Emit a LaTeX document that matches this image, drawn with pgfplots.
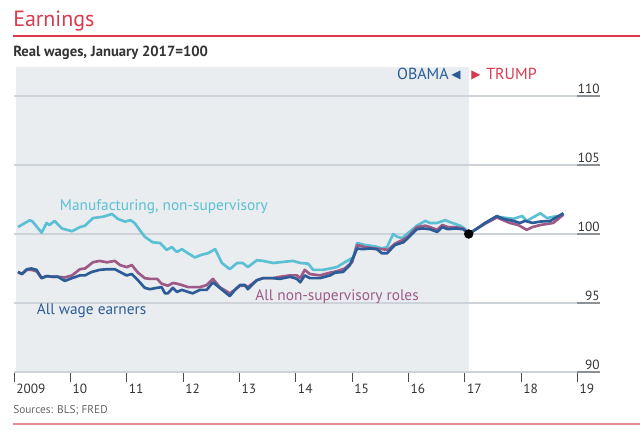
\documentclass[border=0pt]{standalone}
\usepackage{pgfplots}
\pgfplotsset{compat=1.18}
\usepackage{pgfplotstable}
\usepackage{fontspec}
\setmainfont{PT Sans}
\newfontfamily\dejavu{DejaVu Sans}
\definecolor{ecored}{HTML}{DB3A4D}
\definecolor{ecopink}{HTML}{E58A95}
\definecolor{bgshade}{HTML}{E9EDF0}
\definecolor{gridc}{HTML}{CDD3D8}
\definecolor{tickdark}{HTML}{8C9196}
\definecolor{cyanl}{HTML}{5BC0D4}
\definecolor{purp}{HTML}{9E5A86}
\definecolor{blu}{HTML}{2C5C97}
\definecolor{txt}{HTML}{333333}

\pgfplotstableread{
x y
2009.07 100.5
2009.28 101.0
2009.33 100.9
2009.49 100.1
2009.58 100.8
2009.63 100.65
2009.72 100.95
2009.85 100.4
2010.03 100.2
2010.17 100.5
2010.26 100.6
2010.40 101.15
2010.58 101.25
2010.74 101.45
2010.84 101.1
2010.97 100.9
2011.07 101.0
2011.14 100.8
2011.32 99.8
2011.46 99.4
2011.59 99.35
2011.71 98.85
2011.80 99.05
2011.89 98.7
2011.98 98.9
2012.09 98.6
2012.21 98.3
2012.33 98.5
2012.44 98.6
2012.57 98.9
2012.69 97.9
2012.83 97.45
2012.96 97.9
2013.06 97.9
2013.15 97.6
2013.31 98.1
2013.42 98.05
2013.60 97.9
2013.95 98.05
2014.08 97.9
2014.22 97.85
2014.31 97.4
2014.48 97.4
2014.61 97.5
2014.73 97.6
2014.87 97.95
2015.02 98.3
2015.09 99.35
2015.23 99.2
2015.41 99.1
2015.53 98.95
2015.62 99.05
2015.73 100.0
2015.80 99.8
2015.89 99.7
2015.99 100.05
2016.15 100.6
2016.30 100.95
2016.38 100.8
2016.51 100.8
2016.65 101.0
2016.78 100.8
2016.92 100.6
2017.01 100.35
2017.07 100.0
2017.18 100.3
2017.57 101.25
2017.86 101.1
2018.02 101.3
2018.10 100.95
2018.34 101.5
2018.46 101.15
2018.57 101.25
2018.69 101.3
2018.75 101.5
}\manuf

\pgfplotstableread{
x y
2009.07 97.25
2009.14 97.1
2009.23 97.4
2009.31 97.4
2009.40 97.3
2009.49 96.8
2009.58 96.95
2009.69 96.9
2009.78 96.9
2009.90 96.85
2010.03 97.0
2010.17 97.45
2010.26 97.5
2010.40 97.95
2010.52 98.05
2010.65 97.95
2010.79 98.05
2010.88 97.75
2011.00 97.6
2011.09 97.75
2011.20 97.2
2011.32 96.8
2011.41 96.75
2011.54 96.75
2011.62 96.4
2011.73 96.25
2011.82 96.45
2011.89 96.4
2011.98 96.3
2012.09 96.15
2012.21 96.15
2012.30 96.15
2012.42 96.3
2012.53 96.75
2012.65 96.15
2012.83 95.7
2012.92 95.95
2013.01 96.25
2013.10 96.25
2013.15 96.15
2013.31 96.65
2013.42 96.8
2013.60 96.8
2013.72 96.9
2013.90 97.0
2014.02 97.0
2014.08 96.8
2014.16 97.4
2014.25 97.1
2014.43 97.0
2014.61 97.2
2014.73 97.3
2014.87 97.5
2015.00 97.95
2015.09 99.2
2015.23 99.05
2015.41 98.95
2015.53 98.9
2015.64 98.85
2015.76 99.3
2015.89 99.55
2015.99 99.8
2016.15 100.5
2016.30 100.6
2016.38 100.5
2016.51 100.3
2016.60 100.65
2016.70 100.5
2016.83 100.5
2016.97 100.4
2017.07 100.0
2017.22 100.4
2017.36 100.75
2017.57 101.2
2017.80 100.8
2017.95 100.65
2018.10 100.3
2018.20 100.5
2018.34 100.65
2018.57 100.8
2018.75 101.4
}\nonsup

\pgfplotstableread{
x y
2009.07 97.25
2009.14 97.1
2009.23 97.45
2009.31 97.5
2009.40 97.4
2009.49 96.8
2009.58 96.95
2009.69 96.9
2009.78 96.9
2009.90 96.6
2010.03 96.8
2010.17 97.0
2010.26 97.0
2010.38 97.25
2010.52 97.4
2010.65 97.45
2010.79 97.45
2010.88 97.25
2011.00 97.0
2011.09 97.1
2011.20 96.65
2011.32 96.1
2011.41 96.0
2011.54 96.1
2011.62 96.15
2011.68 95.7
2011.73 95.7
2011.82 96.1
2011.89 95.8
2011.98 95.95
2012.09 95.8
2012.17 95.7
2012.30 95.95
2012.42 95.95
2012.53 96.5
2012.65 96.1
2012.83 95.5
2012.92 95.95
2013.01 96.3
2013.10 96.3
2013.15 96.0
2013.31 96.65
2013.42 96.8
2013.60 96.8
2013.72 96.75
2013.90 96.9
2014.02 96.75
2014.08 96.5
2014.16 97.0
2014.25 96.8
2014.43 96.8
2014.61 97.0
2014.70 97.2
2014.84 97.25
2014.96 97.75
2015.09 98.95
2015.19 98.9
2015.32 98.95
2015.44 98.9
2015.53 98.6
2015.62 98.6
2015.76 99.2
2015.91 99.4
2015.99 99.7
2016.15 100.35
2016.26 100.4
2016.38 100.35
2016.51 100.15
2016.60 100.5
2016.70 100.35
2016.83 100.4
2016.97 100.35
2017.07 100.0
2017.22 100.4
2017.36 100.8
2017.57 101.3
2017.68 101.1
2017.86 100.95
2017.98 100.8
2018.07 100.95
2018.20 100.8
2018.34 100.9
2018.52 100.95
2018.60 101.15
2018.75 101.5
}\allwage

\begin{document}
\begin{tikzpicture}[x=0.75pt,y=-0.75pt]
\path[use as bounding box] (0,0) rectangle (640,442);
% header
\node[anchor=base west,inner sep=0,text=ecored,font=\fontsize{16.5}{20}\selectfont] at (13,27) {Earnings};
\draw[ecored,line width=1.2pt] (13,36) -- (640,36);
\node[anchor=base west,inner sep=0,text=txt,font=\fontsize{11}{13}\selectfont\bfseries] at (13,57) {Real wages, January 2017=100};
\begin{axis}[
  at={(10.5pt,-279pt)}, anchor=south west,
  scale only axis, width=439.5pt, height=228.75pt,
  xmin=2009, xmax=2019.4, ymin=90, ymax=112.1,
  axis x line*=bottom, axis y line=none,
  x axis line style={draw=none},
  xtick={2009,2010,2011,2012,2013,2014,2015,2016,2017,2018,2019},
  xticklabels={2009,10,11,12,13,14,15,16,17,18,19},
  tick align=outside, major tick length=7.5pt,
  x tick style={draw=black!70,line width=0.6pt},
  x tick label style={anchor=north west,inner sep=0,xshift=1.5pt,yshift=-1.5pt,text=txt,font=\fontsize{10}{12}\selectfont},
  ytick=\empty,
  clip=false,
]
\fill[bgshade] (axis cs:2009.03,90) rectangle (axis cs:2017.07,112.1);
\pgfplotsinvokeforeach{90,95,100,105,110}{
  \draw[gridc,line width=1.2pt] (axis cs:2009,#1) -- (axis cs:2019.4,#1);
  \draw[tickdark,line width=1.2pt] (axis cs:2019.0,#1) -- (axis cs:2019.4,#1);
  \node[anchor=south east,inner sep=0,yshift=1.5pt,text=txt,font=\fontsize{10}{12}\selectfont] at (axis cs:2019.4,#1) {#1};
}
\addplot[cyanl,line width=2pt,line join=round] table[x=x,y=y] {\manuf};
\addplot[purp,line width=2pt,line join=round] table[x=x,y=y] {\nonsup};
\addplot[blu,line width=2pt,line join=round] table[x=x,y=y] {\allwage};
\addplot[only marks,mark=*,mark size=3.3pt,black] coordinates {(2017.07,100)};
\node[anchor=base west,inner sep=0,text=cyanl,font=\fontsize{11.5}{13}\selectfont] at (axis cs:2009.81,101.7) {Manufacturing, non-supervisory};
\node[anchor=base west,inner sep=0,text=blu,font=\fontsize{11.5}{13}\selectfont] at (axis cs:2009.4,94.15) {All wage earners};
\node[anchor=base west,inner sep=0,text=purp,font=\fontsize{11.5}{13}\selectfont] at (axis cs:2013.28,95.15) {All non-supervisory roles};
\end{axis}
% Obama / Trump
\node[anchor=base east,inner sep=0,text=blu,font=\fontsize{12}{14}\selectfont] at (449,80) {OBAMA};
\node[anchor=base west,inner sep=0,text=blu,font=\fontsize{9}{10}\dejavu] at (451,79) {◀};
\node[anchor=base west,inner sep=0,text=ecored,font=\fontsize{9}{10}\dejavu] at (471,79) {▶};
\node[anchor=base west,inner sep=0,text=ecored,font=\fontsize{12}{14}\selectfont] at (486,80) {TRUMP};
% footer
\node[anchor=base west,inner sep=0,text=black!60,font=\fontsize{8.5}{10}\selectfont] at (13,414) {Sources: BLS; FRED};
\draw[ecopink,line width=1.2pt] (13,424) -- (640,424);
\end{tikzpicture}
\end{document}
